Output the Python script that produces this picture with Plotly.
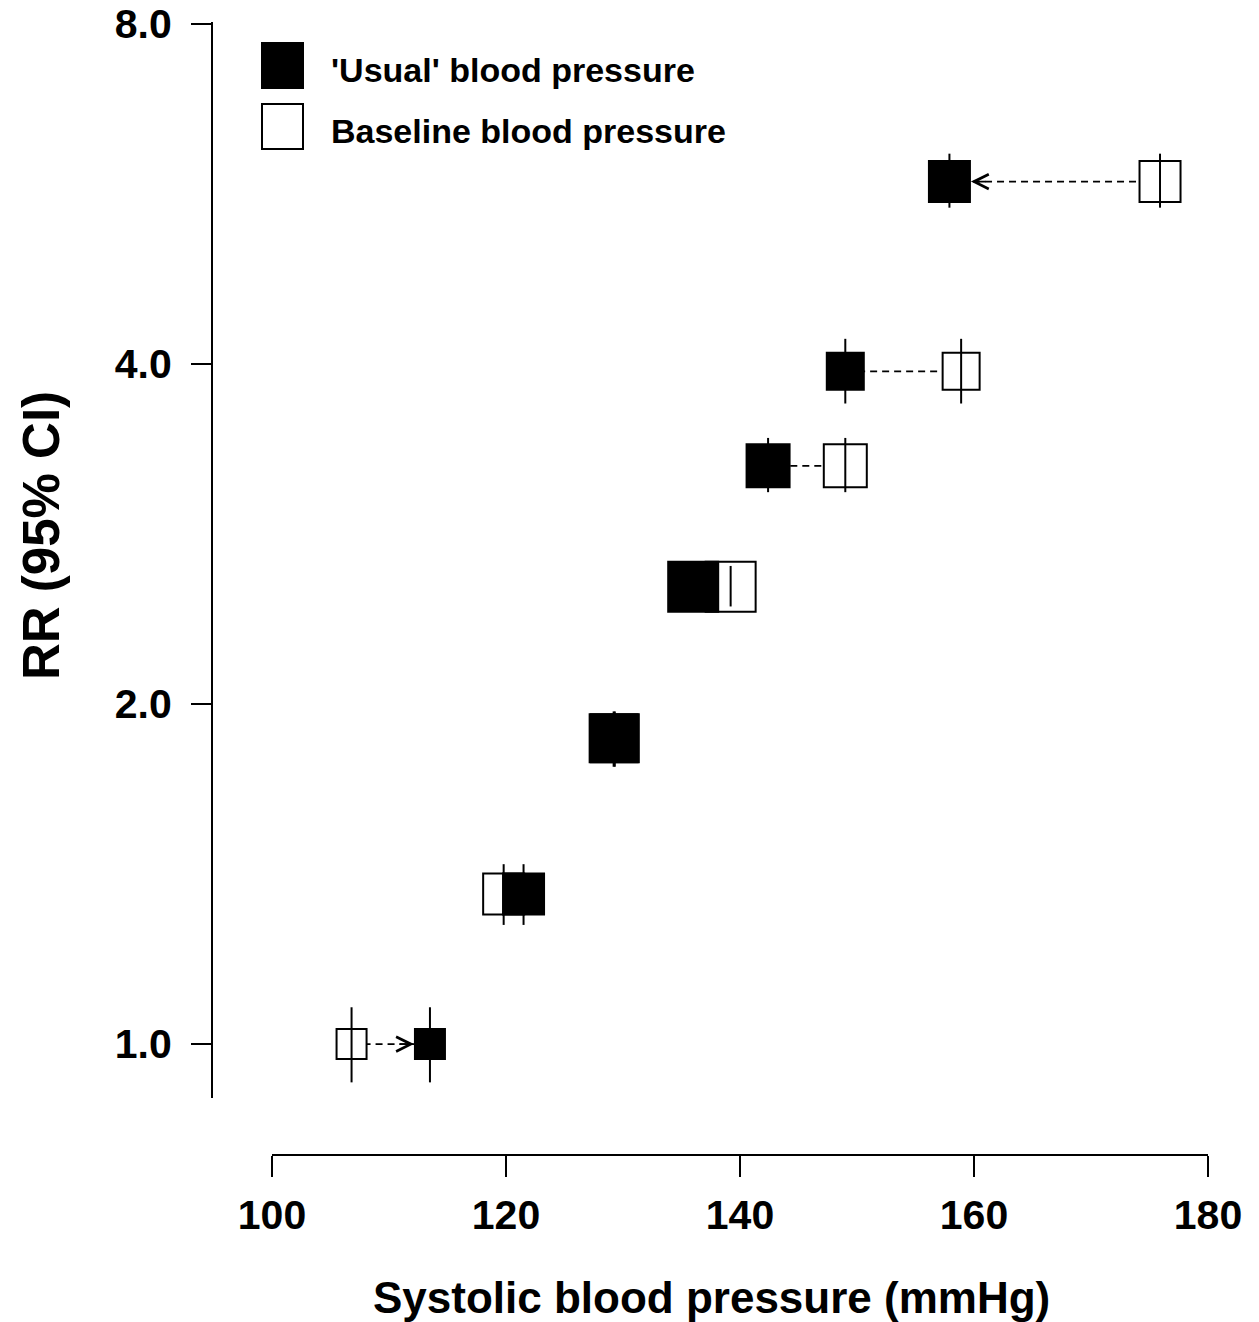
import numpy as np
import plotly.graph_objects as go

# ---------------- data ----------------
usual_sbp = [113.5, 121.5, 129.3, 136.0, 142.4, 149.0, 157.9]
baseline_sbp = [106.8, 119.8, 129.2, 139.2, 149.0, 158.9, 175.9]
rr = [1.00, 1.358, 1.865, 2.54, 3.25, 3.94, 5.80]
rr_low = [0.925, 1.275, 1.76, 2.44, 3.08, 3.69, 5.50]
rr_high = [1.078, 1.443, 1.97, 2.65, 3.44, 4.21, 6.14]
x_ticks = [100, 120, 140, 160, 180]
y_ticks = [1, 2, 4, 8]
y_ticklabels = ["1.0", "2.0", "4.0", "8.0"]
legend_labels = ["'Usual' blood pressure", "Baseline blood pressure"]
x_title = "Systolic blood pressure (mmHg)"
y_title = "RR (95% CI)"
arrow_groups = [0, 6]

# ---------------- style ----------------
SQUARE_PX = [32, 43, 50, 52, 45, 39, 43]
FONT = "Liberation Sans, Arial, sans-serif"
W, H = 1259, 1322
ML, MR, MT, MB = 212, 51, 22, 167
PW, PH = W - ML - MR, H - MT - MB


def px_x(p):
    return (p - ML) / PW


def px_y(p):
    return (H - MB - p) / PH


rr_a = np.array(rr)
err_plus = np.array(rr_high) - rr_a
err_minus = rr_a - np.array(rr_low)

fig = go.Figure()

# dashed connectors baseline -> usual
cx, cy = [], []
for b, u, r in zip(baseline_sbp, usual_sbp, rr):
    cx += [b, u, None]
    cy += [r, r, None]
fig.add_trace(go.Scatter(x=cx, y=cy, mode="lines",
                         line=dict(color="black", width=1.8, dash="7px,5px"),
                         hoverinfo="skip", showlegend=False))

# open squares (baseline)
fig.add_trace(go.Scatter(x=baseline_sbp, y=rr, mode="markers",
                         marker=dict(symbol="square", color="white", opacity=1,
                                     size=[s - 2 for s in SQUARE_PX],
                                     line=dict(color="black", width=2)),
                         name=legend_labels[1], showlegend=False))
# filled squares (usual)
fig.add_trace(go.Scatter(x=usual_sbp, y=rr, mode="markers",
                         marker=dict(symbol="square", color="black", opacity=1,
                                     size=SQUARE_PX, line=dict(width=0)),
                         name=legend_labels[0], showlegend=False))

# confidence intervals
for xs in (baseline_sbp, usual_sbp):
    fig.add_trace(go.Scatter(
        x=xs, y=rr, mode="markers",
        marker=dict(size=1, color="rgba(0,0,0,0)"),
        error_y=dict(type="data", symmetric=False, array=err_plus,
                     arrayminus=err_minus, thickness=2, width=0, color="black"),
        hoverinfo="skip", showlegend=False))

annotations = []
for i in arrow_groups:
    d = 1 if baseline_sbp[i] > usual_sbp[i] else -1
    half = SQUARE_PX[i] / 2
    annotations.append(dict(
        x=usual_sbp[i], y=np.log10(rr[i]), xref="x", yref="y",
        showarrow=True, ax=d * (half + 16), ay=0, axref="pixel", ayref="pixel",
        standoff=half, arrowhead=5, arrowsize=1.6, arrowwidth=1.8,
        arrowcolor="black", text=""))

# axis titles
annotations.append(dict(text=x_title, x=px_x(711), y=px_y(1297), xref="paper",
                        yref="paper", showarrow=False, xanchor="center",
                        yanchor="middle",
                        font=dict(family=FONT, size=44, color="black", weight="bold")))
annotations.append(dict(text=y_title, x=px_x(41), y=px_y(536), xref="paper",
                        yref="paper", showarrow=False, xanchor="center",
                        yanchor="middle", textangle=-90,
                        font=dict(family=FONT, size=51, color="black", weight="bold")))

# legend
shapes = []
leg_rows = [(43, 88, "black"), (104, 149, "white")]
for (t, b, fill), label in zip(leg_rows, legend_labels):
    shapes.append(dict(type="rect", xref="paper", yref="paper",
                       x0=px_x(262), x1=px_x(303), y0=px_y(b), y1=px_y(t),
                       fillcolor=fill, line=dict(color="black", width=2)))
    annotations.append(dict(text=label, x=px_x(329), y=px_y((t + b) / 2 + 4),
                            xref="paper", yref="paper", showarrow=False,
                            xanchor="left", yanchor="middle",
                            font=dict(family=FONT, size=34, color="black",
                                      weight="bold")))

fig.update_layout(
    width=W, height=H,
    margin=dict(l=ML, r=MR, t=MT, b=MB, pad=0, autoexpand=False),
    paper_bgcolor="white", plot_bgcolor="white",
    showlegend=False,
    xaxis=dict(domain=[px_x(272), 1], range=[100, 180], anchor="free", position=0,
               showline=True, linecolor="black", linewidth=2,
               ticks="outside", ticklen=21, tickwidth=2, tickcolor="black",
               tickvals=x_ticks, ticktext=[str(v) for v in x_ticks],
               tickfont=dict(family=FONT, size=41, color="black", weight="bold"),
               showgrid=False, zeroline=False, ticklabelstandoff=3,
               automargin=False),
    yaxis=dict(type="log", domain=[px_y(1098), 1],
               range=[np.log10(0.896), np.log10(8.03)], anchor="free", position=0,
               showline=True, linecolor="black", linewidth=2,
               ticks="outside", ticklen=20, tickwidth=2, tickcolor="black",
               tickvals=y_ticks, ticktext=y_ticklabels,
               tickfont=dict(family=FONT, size=41, color="black", weight="bold"),
               showgrid=False, zeroline=False, ticklabelstandoff=11,
               automargin=False),
    shapes=shapes, annotations=annotations,
)

fig.write_html("out.html", config={"displayModeBar": False},
               post_script="document.body.style.margin='0px';document.body.style.padding='0px';")
